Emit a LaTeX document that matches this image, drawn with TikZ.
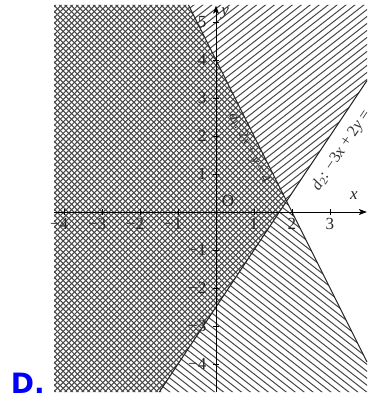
\documentclass[tikz,border=0pt]{standalone}
\usepackage{fontspec}
\setmainfont{Liberation Serif}
\newfontfamily\lblfont{DejaVu Sans}
\usetikzlibrary{arrows.meta}
\definecolor{hatchcol}{gray}{0.28}
\definecolor{answerblue}{RGB}{0,0,255}
\begin{document}
\begin{tikzpicture}[x=38pt,y=38pt,
  cross/.style={line width=1.05pt,draw=hatchcol},
  hatch/.style={line width=1.0pt,draw=hatchcol},
  dline/.style={line width=1pt,draw=black!85},
  axis/.style={line width=0.9pt,draw=black,-{Stealth[length=8pt,width=6pt,inset=2pt]}},
  tick/.style={line width=0.8pt,draw=black},
  lab/.style={font=\fontsize{17}{19}\selectfont,inner sep=0pt,text=black!85},
  eqlab/.style={font=\fontsize{14}{16}\selectfont,inner sep=0pt,text=black!80}]
\useasboundingbox (-5.6842,-4.9474) rectangle (4.1316,5.5789);
\def\xmin{-4.263}\def\xmax{3.974}\def\ymin{-4.737}\def\ymax{5.45}
\coordinate (CTL) at (\xmin,\ymax);
\coordinate (D1T) at (-0.725,\ymax);
\coordinate (P) at (1.857,0.2857);
\coordinate (D2B) at (-1.4913,\ymin);
\coordinate (CBL) at (\xmin,\ymin);
\coordinate (CTR) at (\xmax,\ymax);
\coordinate (D2R) at (\xmax,3.461);
\coordinate (D1R) at (\xmax,-3.948);
\coordinate (CBR) at (\xmax,\ymin);
% crosshatched region
\begin{scope}
\clip (CTL) -- (D1T) -- (P) -- (D2B) -- (CBL) -- cycle;
\foreach \i in {0,...,135} {
  \draw[cross] (-6,{-10+\i*0.149-6}) -- (5,{-10+\i*0.149+5});
  \draw[cross] (-6,{-10+\i*0.149+6}) -- (5,{-10+\i*0.149-5});
}
\end{scope}
% /// region
\begin{scope}
\clip (D1T) -- (CTR) -- (D2R) -- (P) -- cycle;
\foreach \i in {0,...,100} {
  \draw[hatch] (-6,{-9+\i*0.184-6*0.7813}) -- (5,{-9+\i*0.184+5*0.7813});
}
\end{scope}
% \\\ region
\begin{scope}
\clip (D2B) -- (P) -- (D1R) -- (CBR) -- cycle;
\foreach \i in {0,...,100} {
  \draw[hatch] (-6,{-9+\i*0.184+6*0.7813}) -- (5,{-9+\i*0.184-5*0.7813});
}
\end{scope}
% lines
\draw[dline] (D1T) -- (D1R);
\draw[dline] (D2R) -- (D2B);
% axes
\coordinate (XS) at (\xmin,0);
\coordinate (XE) at (3.97,0);
\coordinate (YS) at (0,\ymin);
\coordinate (YE) at (0,5.43);
\draw[axis] (XS) -- (XE);
\draw[axis] (YS) -- (YE);
\foreach \x in {-4,-3,-2,-1,1,2,3} {
  \draw[tick] (\x,-0.08) -- (\x,0.08);
}
\foreach \y in {-4,-3,-2,-1,1,2,3,4,5} {
  \draw[tick] (-0.08,\y) -- (0.08,\y);
}
\foreach \x/\n in {-4/xa,-3/xb,-2/xc,-1/xd} {
  \node[lab,anchor=north] (\n) at (\x,-0.17) {\llap{−}\the\numexpr-\x\relax};
}
\foreach \x/\n in {1/xe,2/xf,3/xg} {
  \node[lab,anchor=north] (\n) at (\x,-0.17) {\x};
}
\foreach \y/\n in {1/ya,2/yb,3/yc,4/yd,5/ye} {
  \node[lab,anchor=east] (\n) at (-0.25,\y) {\y};
}
\foreach \y/\n in {-1/yf,-2/yg,-3/yh,-4/yi} {
  \node[lab,anchor=east] (\n) at (-0.25,\y) {−\the\numexpr-\y\relax};
}
\node[lab] (O) at (0.316,0.29) {O};
\node[lab] (xl) at (3.63,0.42) {\textit{x}};
\node[lab] (yl) at (0.24,5.22) {\textit{y}};
\node[eqlab,rotate=-63.43] (d1l) at (0.87,1.68) {\textit{d}\textsubscript{1}: 2\textit{x} + \textit{y} = 4};
\node[eqlab,font=\fontsize{16}{18}\selectfont,rotate=56.31,anchor=west] (d2l) at (2.62,0.6) {\textit{d}\textsubscript{2}: −3\textit{x} + 2\textit{y} =};
\node[font=\lblfont\bfseries\fontsize{28}{30}\selectfont,text=answerblue,inner sep=0pt] (ans) at (-4.95,-4.52) {D.};
\end{tikzpicture}
\end{document}
